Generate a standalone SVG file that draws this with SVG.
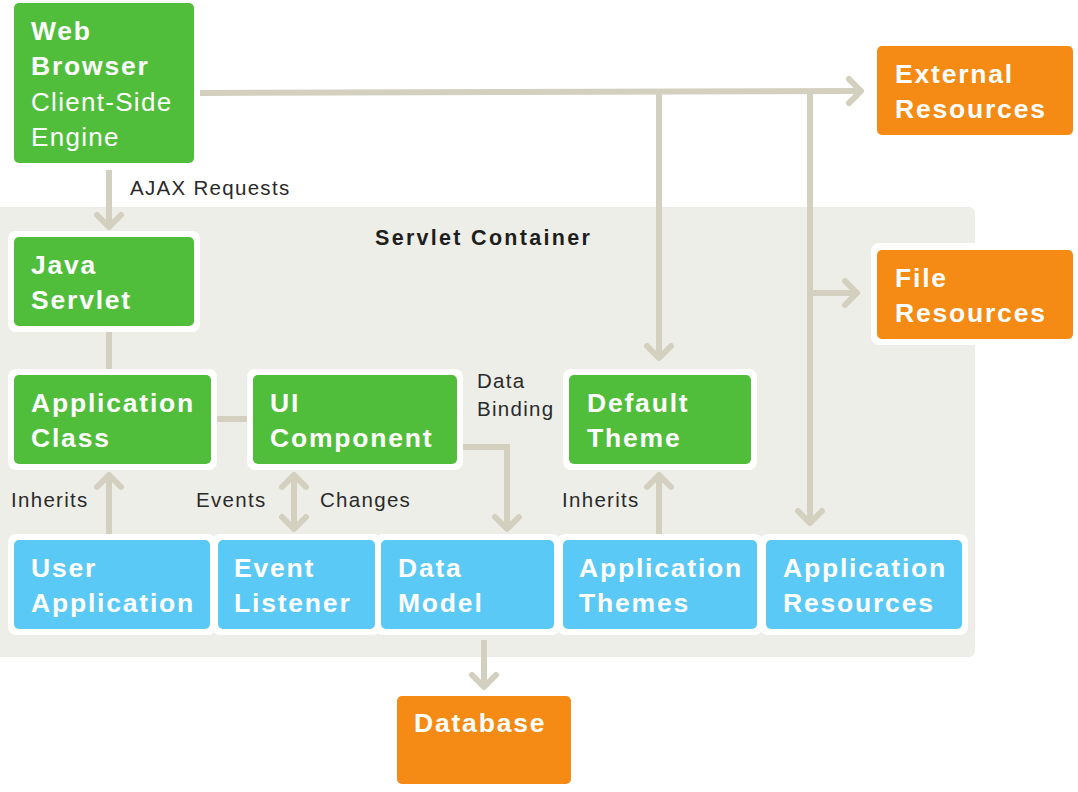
<svg xmlns="http://www.w3.org/2000/svg" width="1078" height="792" viewBox="0 0 1078 792">
<style>
.bg{fill:#EEEEE8}
.wb{fill:#FFFFFF}
.g{fill:#50BE3A}
.b{fill:#5BC9F5}
.o{fill:#F58B14}
.t{font-family:"Liberation Sans",Arial,sans-serif;font-size:26.5px;font-weight:bold;fill:#FFFFFF;letter-spacing:1.8px}
.tr{font-family:"Liberation Sans",Arial,sans-serif;font-size:26px;font-weight:normal;fill:#FFFFFF;letter-spacing:1.3px}
.l{font-family:"Liberation Sans",Arial,sans-serif;font-size:20.5px;fill:#2A2A2A;letter-spacing:1.3px}
.h{font-family:"Liberation Sans",Arial,sans-serif;font-size:21.5px;font-weight:bold;fill:#1E1E1E;letter-spacing:2.3px}
.c{fill:none;stroke:#D3D0BF;stroke-width:6;stroke-linecap:butt}
</style>
<defs>
<marker id="ah" markerUnits="userSpaceOnUse" orient="auto-start-reverse" overflow="visible" markerWidth="1" markerHeight="1" refX="0" refY="0">
<path d="M-13,-12 L-1,0 L-13,12" fill="none" stroke="#D3D0BF" stroke-width="6" stroke-linecap="round" stroke-linejoin="round"/>
</marker>
</defs>
<rect class="bg" x="-10" y="207" width="985" height="450" rx="6"/>
<text class="h" x="375" y="245">Servlet Container</text>

<g id="connectors">
<path class="c" d="M200,93 L500,92 L862,91" marker-end="url(#ah)"/>
<path class="c" d="M659,92 L659,359" marker-end="url(#ah)"/>
<path class="c" d="M810,91 L810,524" marker-end="url(#ah)"/>
<path class="c" d="M810,293 L858,293" marker-end="url(#ah)"/>
<path class="c" d="M109,170 L109,228" marker-end="url(#ah)"/>
<path class="c" d="M109,331 L109,369"/>
<path class="c" d="M216,419 L247,419"/>
<path class="c" d="M109,534 L109,474" marker-end="url(#ah)"/>
<path class="c" d="M294,474 L294,530" marker-start="url(#ah)" marker-end="url(#ah)"/>
<path class="c" d="M463,447 L507,447 L507,530" marker-end="url(#ah)"/>
<path class="c" d="M659,534 L659,474" marker-end="url(#ah)"/>
<path class="c" d="M484,640 L484,688" marker-end="url(#ah)"/>
<text class="l" x="130" y="195">AJAX Requests</text>
<text class="l" x="477" y="388">Data</text>
<text class="l" x="477" y="416">Binding</text>
<text class="l" x="11" y="507">Inherits</text>
<text class="l" x="196" y="507">Events</text>
<text class="l" x="320" y="507">Changes</text>
<text class="l" x="562" y="507">Inherits</text>
</g>

<g id="web-browser">
<rect class="g" x="14" y="3" width="180" height="160" rx="5"/>
<text class="t" x="31" y="40">Web</text>
<text class="t" x="31" y="75">Browser</text>
<text class="tr" x="31" y="111">Client-Side</text>
<text class="tr" x="31" y="146">Engine</text>
</g>

<g id="external-resources">
<rect class="o" x="877" y="46" width="196" height="89" rx="5"/>
<text class="t" x="895" y="83">External</text>
<text class="t" x="895" y="118">Resources</text>
</g>

<g id="file-resources">
<rect class="wb" x="871" y="243" width="210" height="102" rx="8"/>
<rect class="o" x="877" y="250" width="196" height="89" rx="5"/>
<text class="t" x="895" y="287">File</text>
<text class="t" x="895" y="322">Resources</text>
</g>

<g id="java-servlet">
<rect class="wb" x="8" y="231" width="192" height="101" rx="8"/>
<rect class="g" x="14" y="237" width="180" height="89" rx="5"/>
<text class="t" x="31" y="274">Java</text>
<text class="t" x="31" y="309">Servlet</text>
</g>

<g id="application-class">
<rect class="wb" x="8" y="369" width="209" height="101" rx="8"/>
<rect class="g" x="14" y="375" width="197" height="89" rx="5"/>
<text class="t" x="31" y="412">Application</text>
<text class="t" x="31" y="447">Class</text>
</g>

<g id="ui-component">
<rect class="wb" x="247" y="369" width="216" height="101" rx="8"/>
<rect class="g" x="253" y="375" width="204" height="89" rx="5"/>
<text class="t" x="270" y="412">UI</text>
<text class="t" x="270" y="447">Component</text>
</g>

<g id="default-theme">
<rect class="wb" x="563" y="369" width="194" height="101" rx="8"/>
<rect class="g" x="569" y="375" width="182" height="89" rx="5"/>
<text class="t" x="587" y="412">Default</text>
<text class="t" x="587" y="447">Theme</text>
</g>

<g id="user-application">
<rect class="wb" x="8" y="534" width="208" height="101" rx="8"/>
<rect class="b" x="14" y="540" width="196" height="89" rx="5"/>
<text class="t" x="31" y="577">User</text>
<text class="t" x="31" y="612">Application</text>
</g>

<g id="event-listener">
<rect class="wb" x="212" y="534" width="169" height="101" rx="8"/>
<rect class="b" x="218" y="540" width="157" height="89" rx="5"/>
<text class="t" x="234" y="577">Event</text>
<text class="t" x="234" y="612">Listener</text>
</g>

<g id="data-model">
<rect class="wb" x="375" y="534" width="185" height="101" rx="8"/>
<rect class="b" x="381" y="540" width="173" height="89" rx="5"/>
<text class="t" x="398" y="577">Data</text>
<text class="t" x="398" y="612">Model</text>
</g>

<g id="application-themes">
<rect class="wb" x="557" y="534" width="206" height="101" rx="8"/>
<rect class="b" x="563" y="540" width="194" height="89" rx="5"/>
<text class="t" x="579" y="577">Application</text>
<text class="t" x="579" y="612">Themes</text>
</g>

<g id="application-resources">
<rect class="wb" x="760" y="534" width="208" height="101" rx="8"/>
<rect class="b" x="766" y="540" width="196" height="89" rx="5"/>
<text class="t" x="783" y="577">Application</text>
<text class="t" x="783" y="612">Resources</text>
</g>

<g id="database">
<rect class="o" x="397" y="696" width="174" height="88" rx="5"/>
<text class="t" x="414" y="732">Database</text>
</g>
</svg>
